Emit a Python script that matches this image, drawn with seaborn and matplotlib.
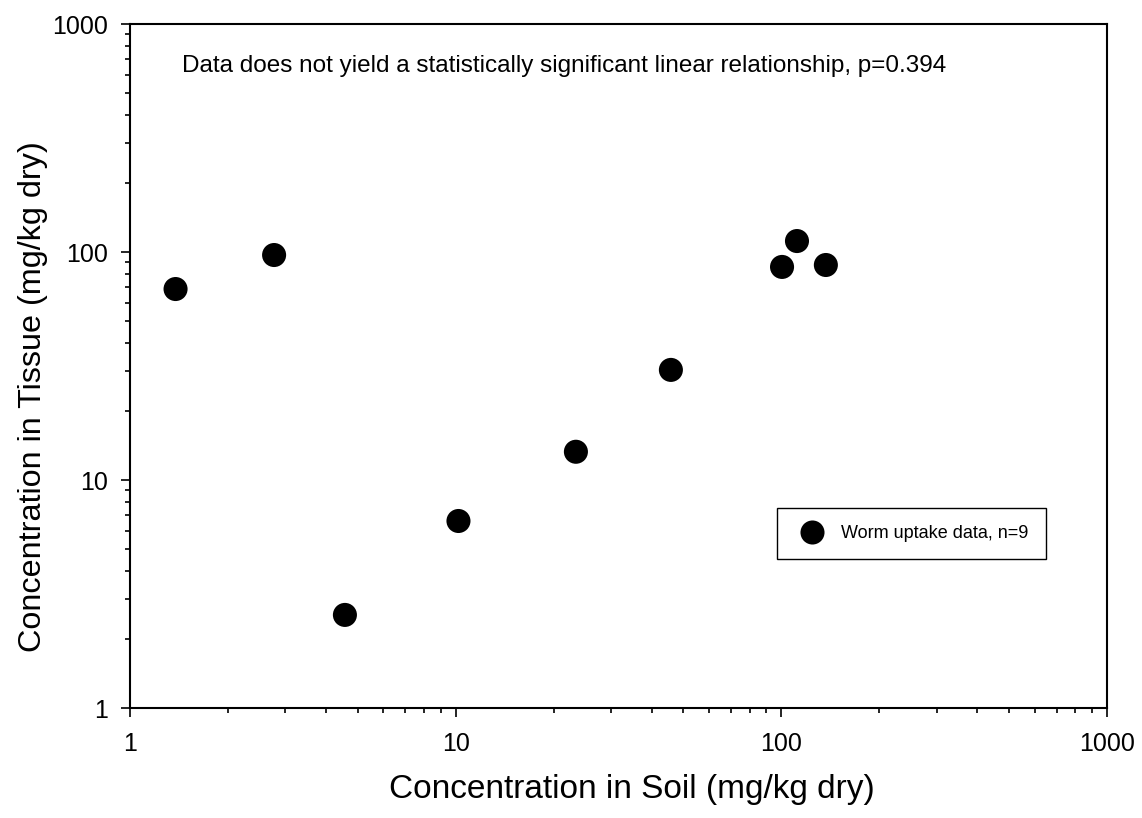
import matplotlib
matplotlib.use("Agg")
import matplotlib.pyplot as plt
import seaborn as sns
import pandas as pd
from matplotlib.ticker import LogLocator, NullFormatter, FixedLocator, FixedFormatter

soil = [1.38, 2.77, 4.57, 10.2, 23.4, 45.8, 100.5, 111.7, 137.0]
tissue = [68.8, 97.0, 2.56, 6.61, 13.3, 30.4, 86.0, 111.7, 87.7]
series_label = "Worm uptake data, n=9"
ticks = [1, 10, 100, 1000]
tick_labels = ["1", "10", "100", "1000"]

sns.set_style("ticks")
plt.rcParams['font.family'] = ['Liberation Sans', 'DejaVu Sans']
for k in ("text.color", "axes.labelcolor", "xtick.color", "ytick.color", "axes.edgecolor"):
    plt.rcParams[k] = "black"

df = pd.DataFrame({"soil": soil, "tissue": tissue, "label": [series_label] * len(soil)})

fig = plt.figure(figsize=(11.42, 8.18), dpi=100)
ax = fig.add_axes([130 / 1142, 1 - 708 / 818, 977 / 1142, 684 / 818])
sns.scatterplot(data=df, x="soil", y="tissue", hue="label", palette=["black"],
                s=300, edgecolor="black", linewidth=0, ax=ax, zorder=3)
ax.set_xscale("log")
ax.set_yscale("log")
ax.set_xlim(1, 1000)
ax.set_ylim(1, 1000)
for axis in (ax.xaxis, ax.yaxis):
    axis.set_major_locator(FixedLocator(ticks))
    axis.set_major_formatter(FixedFormatter(tick_labels))
    axis.set_minor_locator(LogLocator(base=10, subs=range(2, 10)))
    axis.set_minor_formatter(NullFormatter())
for sp in ax.spines.values():
    sp.set_linewidth(1.5)
    sp.set_color("black")
ax.tick_params(which="major", direction="out", length=6.5, width=1.2, labelsize=18, color="black")
ax.tick_params(axis="x", which="major", pad=11)
ax.tick_params(axis="y", which="major", pad=9)
ax.tick_params(which="minor", direction="out", length=3.8, width=1.2, color="black")
ax.set_xlabel("Concentration in Soil (mg/kg dry)", fontsize=24)
ax.set_ylabel("Concentration in Tissue (mg/kg dry)", fontsize=23.3)
ax.xaxis.set_label_coords((632 - 130) / 977, (708 - 774) / 684)
ax.yaxis.set_label_coords((48 - 130) / 977, (708 - 397) / 684)
ax.text(182 / 1142, 1 - 72 / 818, "Data does not yield a statistically significant linear relationship, p=0.394",
        transform=fig.transFigure, fontsize=17.5, va="baseline", ha="left")
leg = ax.legend(loc="upper left", bbox_to_anchor=(777 / 1142, 1 - 508 / 818),
                bbox_transform=fig.transFigure, borderaxespad=0, fontsize=13,
                fancybox=False, frameon=True, edgecolor="black", framealpha=1,
                markerscale=1.0, handletextpad=0.6, borderpad=0.95)
leg.get_frame().set_linewidth(1.0)
fig.savefig("out.png", dpi=100)
